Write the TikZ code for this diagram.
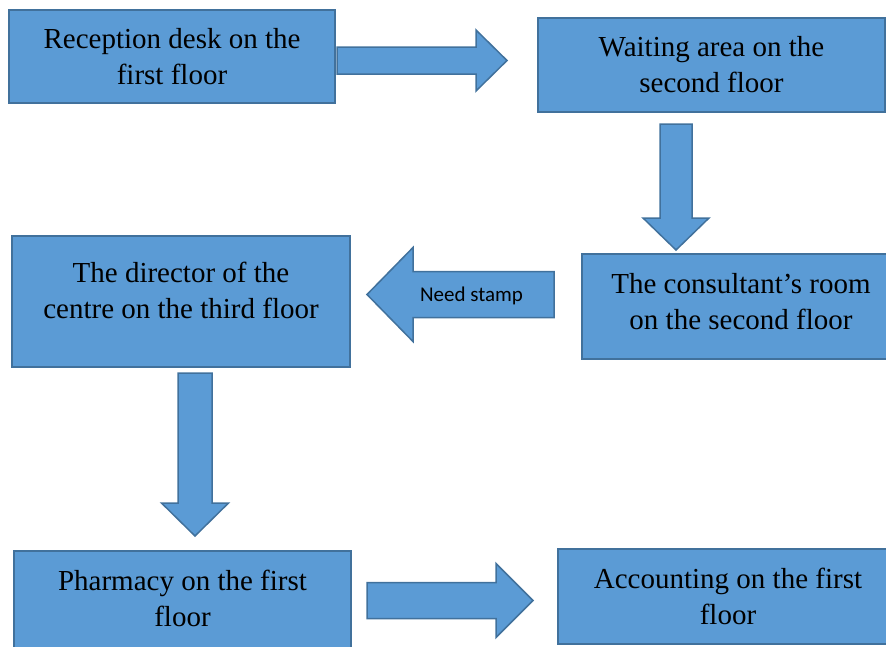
\documentclass[tikz,border=0pt]{standalone}
\usepackage{fontspec}
\setmainfont{Liberation Serif}
\newfontfamily\calibri{Carlito}
\usetikzlibrary{calc,positioning}

\definecolor{boxfill}{HTML}{5B9BD5}
\definecolor{boxline}{HTML}{41719C}

% block arrow: tail, tip, shaft half width, head length, head half width
\newcommand{\blockarrow}[5]{%
  \coordinate (hb) at ($(#2)!#4!(#1)$);
  \draw[arrowshape] ($(#1)!#3!90:(#2)$) -- ($(hb)!#3!-90:(#1)$)
    -- ($(hb)!#5!-90:(#1)$) -- (#2) -- ($(hb)!#5!90:(#1)$)
    -- ($(hb)!#3!90:(#1)$) -- ($(#1)!#3!-90:(#2)$) -- cycle;
}

\begin{document}
\begin{tikzpicture}[
    x=1pt, y=-1pt,
    box/.style={draw=boxline, fill=boxfill, line width=1.5pt,
      inner sep=0pt, align=center, font=\fontsize{29}{36}\selectfont},
    arrowshape/.style={draw=boxline, fill=boxfill, line width=1.5pt,
      line join=miter}]

    \useasboundingbox (0,0) rectangle (886,646);

    % boxes

    \node[box, minimum width=326, minimum height=93] (reception) at (172,56.5)
      {Reception desk on the\\first floor};
    \node[box, minimum width=347, minimum height=94] (waiting) at (711.5,65)
      {Waiting area on the\\second floor};
    \node[box, minimum width=338, minimum height=131] (director) at (181,301.5) {};
    \node[box, draw=none, fill=none] (directortext) at (181,290)
      {The director of the\\centre on the third floor};
    \node[box, minimum width=318, minimum height=105] (consultant) at (741,306.5) {};
    \node[box, draw=none, fill=none] (consultanttext) at (741,302)
      {The consultant's room\\on the second floor};
    \node[box, minimum width=337, minimum height=105] (pharmacy) at (182.5,603.5) {};
    \node[box, draw=none, fill=none] (pharmacytext) at (182.5,598)
      {Pharmacy on the first\\floor};
    \node[box, minimum width=340, minimum height=95] (accounting) at (728,596.5)
      {Accounting on the first\\floor};

    % arrows

    \coordinate (a1tail) at (337,60.5);
    \coordinate (a1tip) at (507,60.5);
    \coordinate (a2tail) at (676,124);
    \coordinate (a2tip) at (676,250);
    \coordinate (a3tail) at (554,294.5);
    \coordinate (a3tip) at (367,294.5);
    \coordinate (a4tail) at (195,373);
    \coordinate (a4tip) at (195,536);
    \coordinate (a5tail) at (367,600.5);
    \coordinate (a5tip) at (533,600.5);

    \blockarrow{a1tail}{a1tip}{13.5pt}{31pt}{30.5pt}
    \blockarrow{a2tail}{a2tip}{16pt}{32pt}{33pt}
    \blockarrow{a3tail}{a3tip}{23pt}{46pt}{47pt}
    \blockarrow{a4tail}{a4tip}{17pt}{33pt}{33.5pt}
    \blockarrow{a5tail}{a5tip}{18pt}{37pt}{37pt}

    \node[font=\calibri\fontsize{21}{25}\selectfont] (stamp) at (471.5,296)
      {Need stamp};
\end{tikzpicture}
\end{document}
